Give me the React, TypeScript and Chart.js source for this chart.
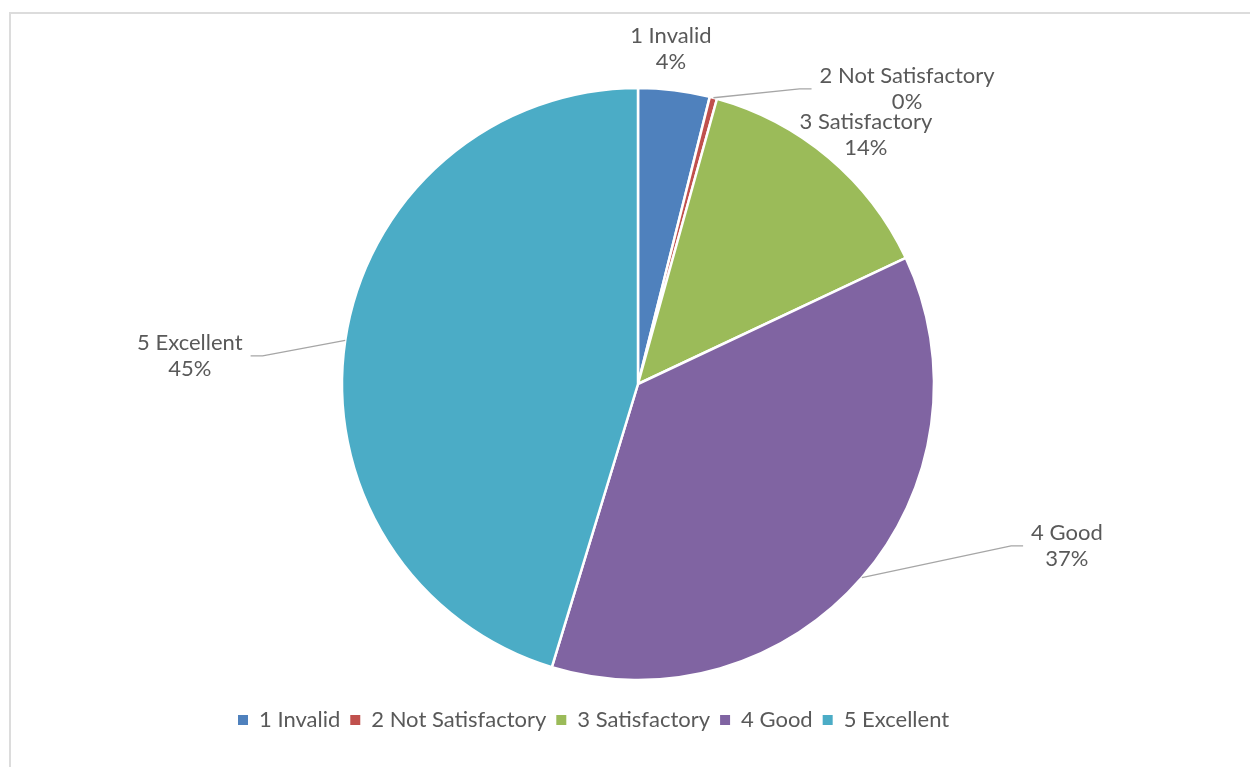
import React, { useEffect, useRef } from "react";
import { Chart, registerables } from "chart.js";

Chart.register(...registerables);

const categories = ["1 Invalid", "2 Not Satisfactory", "3 Satisfactory", "4 Good", "5 Excellent"];
const shares = [3.9, 0.4, 13.7, 36.7, 45.3];
const colors = ["#4F81BD", "#C0504D", "#9BBB59", "#8064A2", "#4BACC6"];
// label block centres, in units of the pie radius, relative to the pie centre
const labelAnchors = [
  [0.111, -1.132],
  [0.909, -0.997],
  [0.77, -0.841],
  [1.449, 0.547],
  [-1.514, -0.095],
];
const leaderLines = [false, true, false, true, true];

const FONT = "Lato, 'Open Sans', sans-serif";
const FONT_SIZE = 22;
const TEXT_COLOR = "#595959";

const labelPlugin = {
  id: "pieLabels",
  afterDatasetsDraw(chart: any) {
    const ctx = chart.ctx as CanvasRenderingContext2D;
    const meta = chart.getDatasetMeta(0);
    const data = chart.data.datasets[0].data as number[];
    const total = data.reduce((a, b) => a + b, 0);
    ctx.save();
    ctx.font = `${FONT_SIZE}px ${FONT}`;
    meta.data.forEach((arc: any, i: number) => {
      const { x, y, startAngle, endAngle, outerRadius } = arc.getProps(
        ["x", "y", "startAngle", "endAngle", "outerRadius"],
        true
      );
      const mid = (startAngle + endAngle) / 2;
      const lx = x + labelAnchors[i][0] * outerRadius;
      const ly = y + labelAnchors[i][1] * outerRadius;
      const lines = [categories[i], Math.round((data[i] / total) * 100) + "%"];
      const w = Math.max(...lines.map((l) => ctx.measureText(l).width));
      if (leaderLines[i]) {
        const ex = x + Math.cos(mid) * outerRadius;
        const ey = y + Math.sin(mid) * outerRadius;
        const side = lx > x ? -1 : 1;
        const tx = lx + side * (w / 2 + 8);
        const elbowX = tx + side * 12;
        ctx.strokeStyle = "#A6A6A6";
        ctx.lineWidth = 1.3;
        ctx.beginPath();
        ctx.moveTo(ex, ey);
        ctx.lineTo(elbowX, ly);
        ctx.lineTo(tx, ly);
        ctx.stroke();
      }
      ctx.fillStyle = TEXT_COLOR;
      ctx.textAlign = "center";
      ctx.textBaseline = "middle";
      ctx.fillText(lines[0], lx, ly - 13);
      ctx.fillText(lines[1], lx, ly + 13);
    });
    ctx.restore();
  },
};

export default function App() {
  const canvasRef = useRef<HTMLCanvasElement | null>(null);

  useEffect(() => {
    document.body.style.overflow = "hidden";
    const canvas = canvasRef.current;
    if (!canvas) return;
    const ov: any = (Chart as any).overrides;
    const baseGen =
      (ov.pie && ov.pie.plugins && ov.pie.plugins.legend && ov.pie.plugins.legend.labels &&
        ov.pie.plugins.legend.labels.generateLabels) ||
      ov.doughnut.plugins.legend.labels.generateLabels;
    const chart = new Chart(canvas, {
      type: "pie",
      data: {
        labels: categories,
        datasets: [
          {
            data: shares,
            backgroundColor: colors,
            borderColor: "#FFFFFF",
            borderWidth: 2.5,
            radius: 296,
          } as any,
        ],
      },
      options: {
        animation: false,
        responsive: false,
        maintainAspectRatio: false,
        layout: { padding: { top: 69, bottom: 26, left: 228, right: 202 } },
        plugins: {
          tooltip: { enabled: false },
          legend: {
            position: "bottom",
            align: "start",
            labels: {
              boxWidth: 10,
              boxHeight: 10,
              padding: 10,
              color: TEXT_COLOR,
              font: { family: FONT, size: FONT_SIZE },
              generateLabels: (c: any) =>
                baseGen(c).map((it: any) => ({ ...it, lineWidth: 0 })),
            },
          },
        },
      },
      plugins: [labelPlugin],
    });
    return () => chart.destroy();
  }, []);

  return (
    <div>
      <div
        style={{
          position: "absolute",
          left: 9,
          top: 12,
          width: 1241,
          height: 755,
          borderLeft: "2px solid #DCDCDC",
          borderTop: "2px solid #DCDCDC",
          boxSizing: "border-box",
        }}
      />
      <canvas
        ref={canvasRef}
        width={1250}
        height={767}
        style={{ position: "absolute", left: 0, top: 0, width: 1250, height: 767 }}
      />
    </div>
  );
}
